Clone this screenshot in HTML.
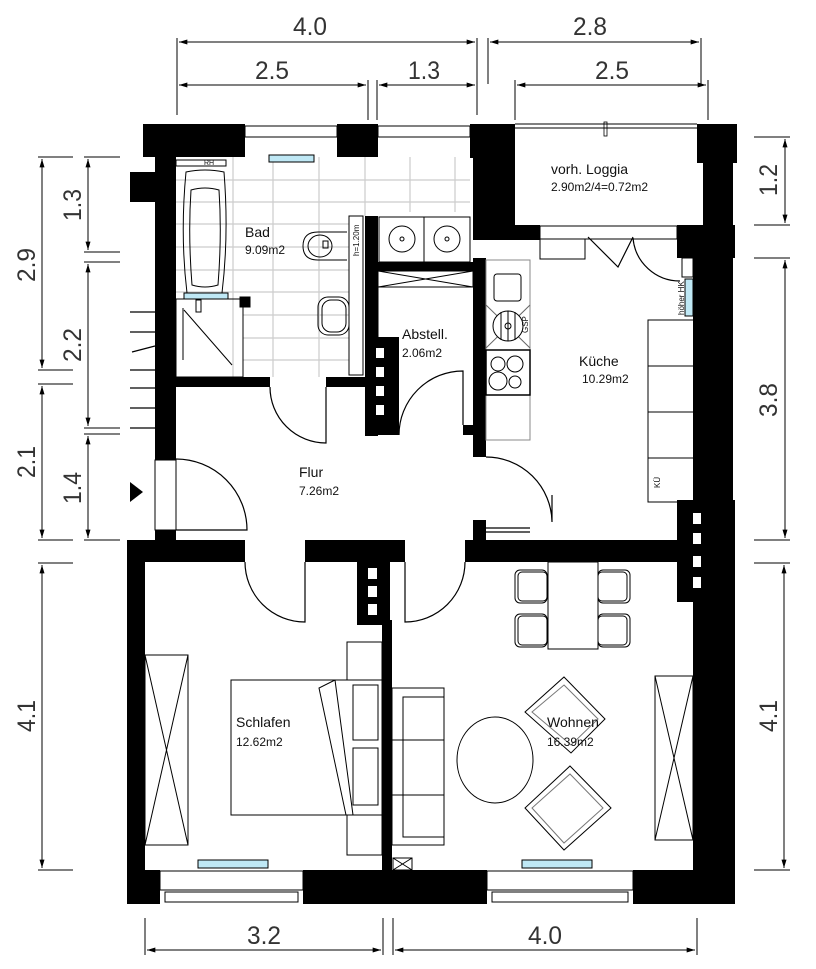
<!DOCTYPE html>
<html><head><meta charset="utf-8"><style>
html,body{margin:0;padding:0;background:#fff;}
svg{display:block;}
.d{font-family:"Liberation Sans Narrow","Liberation Sans",sans-serif;font-size:25px;fill:#333;}
.l{font-family:"Liberation Sans",sans-serif;fill:#111;}
</style></head><body>
<svg width="816" height="969" viewBox="0 0 816 969" xmlns="http://www.w3.org/2000/svg">
<defs>
<marker id="a" viewBox="0 0 10 6" refX="10" refY="3" markerWidth="14" markerHeight="5" markerUnits="userSpaceOnUse" orient="auto-start-reverse"><path d="M0,0L10,3L0,6z" fill="#000"/></marker>
</defs>
<rect width="816" height="969" fill="#fff"/>

<g stroke="#000" stroke-width="1" fill="none">
<line x1="177" y1="38" x2="177" y2="115"/><line x1="477" y1="38" x2="477" y2="115"/>
<line x1="488" y1="38" x2="488" y2="84"/><line x1="701" y1="38" x2="701" y2="84"/>
<line x1="179" y1="42" x2="475" y2="42" marker-start="url(#a)" marker-end="url(#a)"/>
<line x1="490" y1="42" x2="699" y2="42" marker-start="url(#a)" marker-end="url(#a)"/>
<line x1="368" y1="80" x2="368" y2="120"/><line x1="377" y1="80" x2="377" y2="120"/>
<line x1="515" y1="80" x2="515" y2="120"/><line x1="708" y1="80" x2="708" y2="120"/>
<line x1="179" y1="85" x2="366" y2="85" marker-start="url(#a)" marker-end="url(#a)"/>
<line x1="379" y1="85" x2="475" y2="85" marker-start="url(#a)" marker-end="url(#a)"/>
<line x1="517" y1="85" x2="706" y2="85" marker-start="url(#a)" marker-end="url(#a)"/>
<line x1="38" y1="157" x2="73" y2="157"/><line x1="84" y1="157" x2="120" y2="157"/>
<line x1="38" y1="370" x2="73" y2="370"/><line x1="38" y1="384" x2="73" y2="384"/>
<line x1="84" y1="252" x2="120" y2="252"/><line x1="84" y1="262" x2="120" y2="262"/>
<line x1="84" y1="428" x2="120" y2="428"/><line x1="84" y1="434" x2="120" y2="434"/>
<line x1="38" y1="540" x2="73" y2="540"/><line x1="84" y1="540" x2="120" y2="540"/>
<line x1="42" y1="159" x2="42" y2="368" marker-start="url(#a)" marker-end="url(#a)"/>
<line x1="42" y1="386" x2="42" y2="538" marker-start="url(#a)" marker-end="url(#a)"/>
<line x1="88" y1="159" x2="88" y2="250" marker-start="url(#a)" marker-end="url(#a)"/>
<line x1="88" y1="264" x2="88" y2="426" marker-start="url(#a)" marker-end="url(#a)"/>
<line x1="88" y1="436" x2="88" y2="538" marker-start="url(#a)" marker-end="url(#a)"/>
<line x1="38" y1="563" x2="73" y2="563"/><line x1="38" y1="870" x2="73" y2="870"/>
<line x1="42" y1="565" x2="42" y2="868" marker-start="url(#a)" marker-end="url(#a)"/>
<line x1="754" y1="137" x2="790" y2="137"/><line x1="754" y1="225" x2="790" y2="225"/>
<line x1="754" y1="258" x2="790" y2="258"/><line x1="754" y1="540" x2="790" y2="540"/>
<line x1="754" y1="563" x2="790" y2="563"/><line x1="754" y1="870" x2="790" y2="870"/>
<line x1="785" y1="139" x2="785" y2="223" marker-start="url(#a)" marker-end="url(#a)"/>
<line x1="785" y1="260" x2="785" y2="538" marker-start="url(#a)" marker-end="url(#a)"/>
<line x1="784" y1="565" x2="784" y2="868" marker-start="url(#a)" marker-end="url(#a)"/>
<line x1="145" y1="918" x2="145" y2="955"/><line x1="383" y1="918" x2="383" y2="955"/>
<line x1="393" y1="918" x2="393" y2="955"/><line x1="697" y1="918" x2="697" y2="955"/>
<line x1="147" y1="950" x2="381" y2="950" marker-start="url(#a)" marker-end="url(#a)"/>
<line x1="395" y1="950" x2="695" y2="950" marker-start="url(#a)" marker-end="url(#a)"/>
</g>
<g class="d">
<text x="310" y="35" text-anchor="middle" textLength="34" lengthAdjust="spacingAndGlyphs">4.0</text>
<text x="590" y="35" text-anchor="middle" textLength="34" lengthAdjust="spacingAndGlyphs">2.8</text>
<text x="272" y="79" text-anchor="middle" textLength="34" lengthAdjust="spacingAndGlyphs">2.5</text>
<text x="424" y="79" text-anchor="middle" textLength="32" lengthAdjust="spacingAndGlyphs">1.3</text>
<text x="612" y="79" text-anchor="middle" textLength="34" lengthAdjust="spacingAndGlyphs">2.5</text>
<text x="264" y="944" text-anchor="middle" textLength="34" lengthAdjust="spacingAndGlyphs">3.2</text>
<text x="545" y="944" text-anchor="middle" textLength="34" lengthAdjust="spacingAndGlyphs">4.0</text>
<text transform="translate(35,265) rotate(-90)" text-anchor="middle" textLength="34" lengthAdjust="spacingAndGlyphs">2.9</text>
<text transform="translate(35,462) rotate(-90)" text-anchor="middle" textLength="32" lengthAdjust="spacingAndGlyphs">2.1</text>
<text transform="translate(35,716) rotate(-90)" text-anchor="middle" textLength="32" lengthAdjust="spacingAndGlyphs">4.1</text>
<text transform="translate(81,205) rotate(-90)" text-anchor="middle" textLength="32" lengthAdjust="spacingAndGlyphs">1.3</text>
<text transform="translate(81,345) rotate(-90)" text-anchor="middle" textLength="34" lengthAdjust="spacingAndGlyphs">2.2</text>
<text transform="translate(81,488) rotate(-90)" text-anchor="middle" textLength="32" lengthAdjust="spacingAndGlyphs">1.4</text>
<text transform="translate(777,180) rotate(-90)" text-anchor="middle" textLength="32" lengthAdjust="spacingAndGlyphs">1.2</text>
<text transform="translate(777,400) rotate(-90)" text-anchor="middle" textLength="34" lengthAdjust="spacingAndGlyphs">3.8</text>
<text transform="translate(777,716) rotate(-90)" text-anchor="middle" textLength="32" lengthAdjust="spacingAndGlyphs">4.1</text>
</g>

<g stroke="#ccc" stroke-width="1.2">
<line x1="233" y1="157" x2="233" y2="377"/><line x1="273" y1="157" x2="273" y2="377"/>
<line x1="319" y1="157" x2="319" y2="377"/><line x1="365" y1="157" x2="365" y2="216"/>
<line x1="410" y1="157" x2="410" y2="212"/><line x1="455" y1="157" x2="455" y2="212"/>
<line x1="176" y1="180" x2="470" y2="180"/><line x1="176" y1="202" x2="470" y2="202"/>
<line x1="176" y1="224" x2="349" y2="224"/><line x1="176" y1="247" x2="349" y2="247"/>
<line x1="176" y1="270" x2="349" y2="270"/><line x1="176" y1="292" x2="349" y2="292"/>
<line x1="243" y1="315" x2="349" y2="315"/><line x1="243" y1="338" x2="349" y2="338"/>
<line x1="243" y1="360" x2="349" y2="360"/>
</g>

<g fill="#000">
<rect x="143" y="124" width="102" height="33"/>
<rect x="337" y="124" width="41" height="33"/>
<rect x="470" y="124" width="45" height="34"/>
<rect x="473" y="124" width="42" height="102"/>
<rect x="697" y="124" width="40" height="39"/>
<rect x="703" y="160" width="30" height="66"/>
<rect x="473" y="225" width="67" height="15"/>
<rect x="677" y="225" width="58" height="33"/>
<rect x="693" y="255" width="40" height="250"/>
<rect x="677" y="500" width="58" height="102"/>
<rect x="693" y="600" width="42" height="275"/>
<rect x="155" y="157" width="21" height="303"/>
<rect x="130" y="172" width="26" height="30"/>
<rect x="155" y="530" width="21" height="16"/>
<rect x="176" y="377" width="94" height="10"/>
<rect x="326" y="377" width="40" height="10"/>
<rect x="365" y="216" width="13" height="220"/>
<rect x="365" y="337" width="34" height="98"/>
<rect x="365" y="262" width="110" height="9"/>
<rect x="473" y="258" width="13" height="199"/>
<rect x="463" y="425" width="23" height="10"/>
<rect x="473" y="520" width="13" height="22"/>
<rect x="127" y="540" width="118" height="22"/>
<rect x="305" y="540" width="100" height="22"/>
<rect x="465" y="540" width="235" height="22"/>
<rect x="357" y="560" width="33" height="65"/>
<rect x="382" y="620" width="10" height="255"/>
<rect x="127" y="540" width="18" height="364"/>
<rect x="127" y="870" width="33" height="34"/>
<rect x="303" y="870" width="184" height="34"/>
<rect x="633" y="870" width="102" height="34"/>
</g>
<g fill="#fff">
<rect x="376" y="348" width="8" height="10"/><rect x="376" y="367" width="8" height="10"/>
<rect x="376" y="386" width="8" height="10"/><rect x="376" y="405" width="8" height="10"/>
<rect x="368" y="568" width="9" height="11"/><rect x="368" y="586" width="9" height="11"/>
<rect x="368" y="604" width="9" height="11"/>
<rect x="693" y="513" width="8" height="11"/><rect x="693" y="533" width="8" height="11"/>
<rect x="693" y="556" width="8" height="11"/><rect x="693" y="577" width="8" height="11"/>
</g>

<g fill="#fff" stroke="#000" stroke-width="1">
<rect x="245" y="126" width="92" height="11"/>
<rect x="378" y="126" width="92" height="11"/>
<rect x="160" y="871" width="143" height="19"/>
<rect x="165" y="892" width="133" height="10"/>
<rect x="487" y="871" width="146" height="19"/>
<rect x="492" y="892" width="136" height="10"/>
<rect x="155" y="460" width="21" height="70"/>
<rect x="540" y="226" width="137" height="13"/>
<rect x="540" y="239" width="45" height="20"/>
</g>
<line x1="515" y1="124" x2="697" y2="124" stroke="#000"/>
<line x1="515" y1="128" x2="697" y2="128" stroke="#000"/>
<rect x="604" y="122" width="3" height="14" fill="none" stroke="#000" stroke-width="0.8"/>

<g stroke="#000" stroke-width="1.2">
<line x1="130" y1="312" x2="155" y2="312"/><line x1="130" y1="332" x2="155" y2="332"/>
<line x1="132" y1="352" x2="155" y2="346"/><line x1="130" y1="370" x2="155" y2="370"/>
<line x1="130" y1="388" x2="155" y2="388"/><line x1="130" y1="408" x2="155" y2="408"/>
<line x1="130" y1="428" x2="155" y2="428"/>
</g>
<path d="M130,482L143,492L130,502z" fill="#000"/>

<g fill="none" stroke="#000" stroke-width="1">
<rect x="176" y="160" width="50" height="6"/>
<text x="204" y="165" class="l" font-size="7" stroke="none" fill="#000">RH</text>
<path d="M186,172 Q205,168 224,172 Q229,235 222,293 Q205,297 187,293 Q180,235 186,172z"/>
<path d="M191,190 Q205,186 219,190 Q222,235 218,285 Q205,289 192,285 Q188,235 191,190z"/>
<rect x="184" y="293" width="44" height="6" fill="#bfe8f5"/>
<rect x="176" y="299" width="67" height="78"/>
<line x1="184" y1="310" x2="232" y2="365"/>
<line x1="183" y1="308" x2="183" y2="360"/>
<rect x="196" y="300" width="5" height="12"/>
<rect x="240" y="297" width="10" height="10" fill="#000"/>
<path d="M347,232 L318,232 Q303,232 303,246 Q303,260 318,260 L347,260"/>
<ellipse cx="320" cy="246" rx="12" ry="11"/>
<rect x="323" y="241" width="5" height="7"/>
<rect x="318" y="297" width="31" height="38" rx="10"/>
<rect x="322" y="300" width="24" height="32" rx="9"/>
<rect x="349" y="216" width="14" height="159" fill="#fff"/>
<text transform="translate(359,256) rotate(-90)" class="l" font-size="8" stroke="none" fill="#000">h=1.20m</text>
<rect x="379" y="217" width="45" height="45"/><rect x="424" y="217" width="46" height="45"/>
<circle cx="402" cy="239" r="13"/><circle cx="402" cy="239" r="2"/>
<circle cx="447" cy="239" r="13"/><circle cx="447" cy="239" r="2"/>
<rect x="378" y="271" width="95" height="16"/>
<line x1="378" y1="271" x2="473" y2="287"/><line x1="378" y1="287" x2="473" y2="271"/>
<line x1="378" y1="287" x2="378" y2="337"/>
</g>

<g fill="none" stroke="#000" stroke-width="1.2">
<path d="M270,387 A56,56 0 0 0 326,443 L326,387"/>
<path d="M399,435 A64,64 0 0 1 463,371 L463,425"/>
<path d="M176,459 A71,71 0 0 1 247,530 L176,530"/>
<path d="M486,457 A66,66 0 0 1 552,522 L552,495"/>
<path d="M245,562 A60,60 0 0 0 305,622 L305,562"/>
<path d="M465,562 A60,60 0 0 1 405,622 L405,562"/>
<path d="M588,237 L618,267 L633,237"/>
<path d="M633,238 A47,47 0 0 0 680,281"/>
<line x1="475" y1="528" x2="530" y2="528"/><line x1="486" y1="532" x2="530" y2="532"/>
</g>

<g fill="none" stroke="#000" stroke-width="1">
<rect x="486" y="260" width="44" height="180" stroke="#888"/>
<rect x="494" y="274" width="27" height="27" rx="3"/>
<line x1="486" y1="305" x2="530" y2="348" stroke="#666"/><line x1="530" y1="305" x2="486" y2="348" stroke="#666"/>
<circle cx="508" cy="326" r="15" fill="#fff"/><circle cx="508" cy="326" r="3"/>
<line x1="501" y1="312" x2="501" y2="340"/><line x1="508" y1="311" x2="508" y2="341"/><line x1="515" y1="312" x2="515" y2="340"/>
<rect x="486" y="350" width="44" height="45" stroke-width="1.5"/>
<circle cx="498" cy="364" r="7"/><circle cx="515" cy="364" r="8"/>
<circle cx="498" cy="381" r="9"/><circle cx="515" cy="382" r="6"/>
<rect x="648" y="320" width="46" height="182"/>
<line x1="648" y1="366" x2="694" y2="366"/><line x1="648" y1="412" x2="694" y2="412"/><line x1="648" y1="458" x2="694" y2="458"/>
<rect x="682" y="258" width="11" height="19"/>
<rect x="685" y="279" width="8" height="37" fill="#bfe8f5"/>
</g>
<g class="l" font-size="8">
<text transform="translate(528,333) rotate(-90)">GSP</text>
<text transform="translate(684,315) rotate(-90)">höher HK</text>
<text transform="translate(660,488) rotate(-90)">KÜ</text>
</g>

<g stroke="#000" stroke-width="1" fill="#bfe8f5">
<rect x="269" y="155" width="45" height="7"/>
<rect x="198" y="860" width="70" height="8"/>
<rect x="522" y="860" width="70" height="8"/>
</g>

<g fill="none" stroke="#000" stroke-width="1">
<rect x="145" y="655" width="43" height="190"/>
<line x1="145" y1="655" x2="188" y2="845"/><line x1="188" y1="655" x2="145" y2="845"/>
<rect x="347" y="642" width="35" height="38"/><rect x="347" y="815" width="35" height="40"/>
<rect x="231" y="680" width="151" height="135" fill="#fff"/>
<rect x="353" y="685" width="25" height="55"/><rect x="353" y="748" width="25" height="57"/>
<path d="M335,680 L319,688 L346,815 M335,680 L353,815"/>
<rect x="392" y="688" width="52" height="157"/>
<rect x="403" y="697" width="41" height="140"/>
<line x1="392" y1="740" x2="444" y2="740"/><line x1="392" y1="795" x2="444" y2="795"/>
<rect x="548" y="562" width="50" height="87"/>
<rect x="515" y="570" width="32" height="33" rx="5"/><rect x="518" y="572" width="29" height="29" rx="4"/>
<rect x="515" y="614" width="32" height="33" rx="5"/><rect x="518" y="616" width="29" height="29" rx="4"/>
<rect x="598" y="570" width="32" height="33" rx="5"/><rect x="598" y="572" width="29" height="29" rx="4"/>
<rect x="598" y="614" width="32" height="33" rx="5"/><rect x="598" y="616" width="29" height="29" rx="4"/>
<ellipse cx="495" cy="760" rx="38" ry="43"/>
<path d="M564,677 L605,719 L571,753 L525,712z"/>
<path d="M564,685 L598,719 L571,745 L532,712z" stroke="#777"/>
<path d="M570,766 L611,808 L564,850 L525,808z"/>
<path d="M570,774 L603,808 L564,843 L532,808z" stroke="#777"/>
<rect x="655" y="676" width="38" height="164"/>
<line x1="655" y1="676" x2="693" y2="840"/><line x1="693" y1="676" x2="655" y2="840"/>
<rect x="393" y="858" width="19" height="12"/>
<line x1="393" y1="858" x2="412" y2="870"/><line x1="412" y1="858" x2="393" y2="870"/>
</g>

<g class="l">
<text x="245" y="237" font-size="14">Bad</text>
<text x="245" y="254" font-size="12">9.09m2</text>
<text x="402" y="339" font-size="14">Abstell.</text>
<text x="402" y="357" font-size="12">2.06m2</text>
<text x="299" y="477" font-size="14">Flur</text>
<text x="299" y="495" font-size="12">7.26m2</text>
<text x="551" y="174" font-size="14">vorh. Loggia</text>
<text x="551" y="191" font-size="12">2.90m2/4=0.72m2</text>
<text x="579" y="366" font-size="14">Küche</text>
<text x="582" y="383" font-size="12">10.29m2</text>
<text x="236" y="727" font-size="14">Schlafen</text>
<text x="236" y="746" font-size="12">12.62m2</text>
<text x="547" y="727" font-size="14">Wohnen</text>
<text x="547" y="746" font-size="12">16.39m2</text>
</g>
</svg>
</body></html>
